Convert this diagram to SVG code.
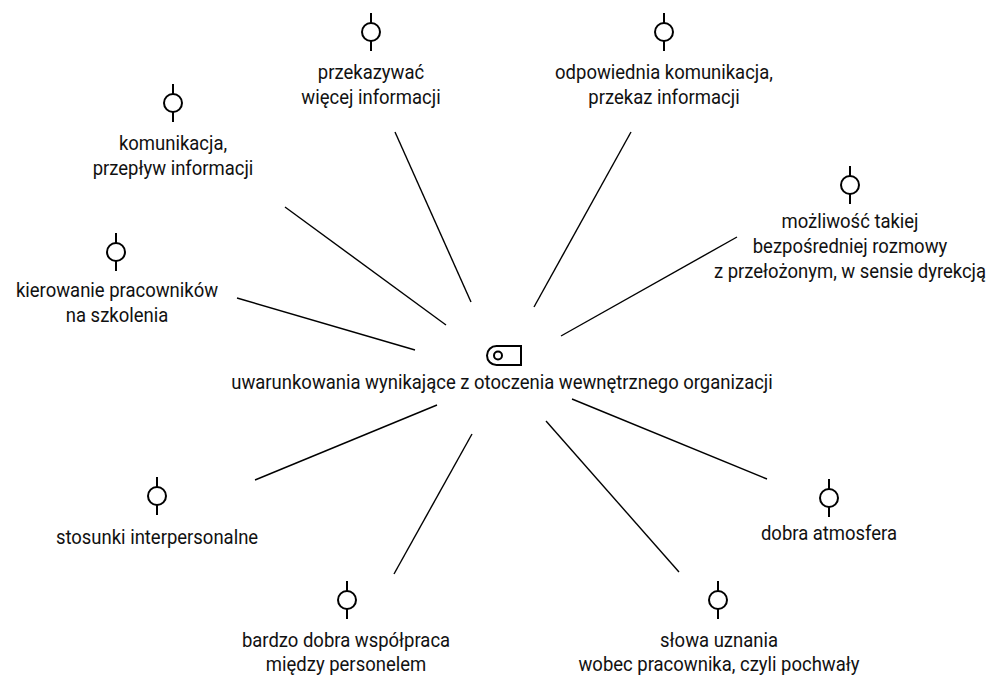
<svg xmlns="http://www.w3.org/2000/svg" width="990" height="676" viewBox="0 0 990 676">
  <style>
    .lbl { font-family: Roboto, "Noto Sans", "Liberation Sans", sans-serif; font-size: 21px; fill: #111; text-anchor: middle; }
    .edge { stroke: #000; stroke-width: 1.4; fill: none; }
    .pin { stroke: #000; stroke-width: 2; fill: #fff; }
  </style>
  <defs>
    <!-- lollipop symbol, centred on the circle -->
    <g id="pin">
      <line class="pin" x1="0" y1="-19" x2="0" y2="-9"/>
      <circle class="pin" cx="0" cy="0" r="9"/>
      <line class="pin" x1="0" y1="9" x2="0" y2="19"/>
    </g>
  </defs>
  <rect width="990" height="676" fill="#fff"/>

  <!-- connectors -->
  <g id="connectors">
    <line class="edge" x1="395" y1="132" x2="471" y2="302"/>
    <line class="edge" x1="631" y1="132" x2="534" y2="307"/>
    <line class="edge" x1="737" y1="237" x2="561" y2="336"/>
    <line class="edge" x1="285" y1="207" x2="446" y2="325"/>
    <line class="edge" x1="237" y1="298" x2="415" y2="350"/>
    <line class="edge" x1="437" y1="405" x2="255" y2="480"/>
    <line class="edge" x1="472" y1="434" x2="394" y2="574"/>
    <line class="edge" x1="572" y1="399" x2="767" y2="479"/>
    <line class="edge" x1="546" y1="421" x2="679" y2="572"/>
  </g>

  <!-- central node -->
  <g id="center">
    <path class="pin" d="M496.5 346 H521 V365 H496.5 A9.5 9.5 0 0 1 496.5 346 Z"/>
    <circle class="pin" cx="498" cy="355.5" r="4"/>
    <text class="lbl" transform="translate(502 389) scale(0.88 1)">uwarunkowania wynikające z otoczenia wewnętrznego organizacji</text>
  </g>

  <g id="n-przekazywac">
    <use href="#pin" x="371" y="32"/>
    <text class="lbl" transform="translate(371 79) scale(0.88 1)">przekazywać</text>
    <text class="lbl" transform="translate(371 104) scale(0.88 1)">więcej informacji</text>
  </g>

  <g id="n-odpowiednia">
    <use href="#pin" x="664" y="32"/>
    <text class="lbl" transform="translate(664 79) scale(0.88 1)">odpowiednia komunikacja,</text>
    <text class="lbl" transform="translate(664 104) scale(0.88 1)">przekaz informacji</text>
  </g>

  <g id="n-komunikacja">
    <use href="#pin" x="173" y="103"/>
    <text class="lbl" transform="translate(173 150) scale(0.88 1)">komunikacja,</text>
    <text class="lbl" transform="translate(173 175) scale(0.88 1)">przepływ informacji</text>
  </g>

  <g id="n-kierowanie">
    <use href="#pin" x="116" y="252"/>
    <text class="lbl" transform="translate(117 297) scale(0.88 1)">kierowanie pracowników</text>
    <text class="lbl" transform="translate(117 322) scale(0.88 1)">na szkolenia</text>
  </g>

  <g id="n-mozliwosc">
    <use href="#pin" x="850" y="185"/>
    <text class="lbl" transform="translate(850 228) scale(0.88 1)">możliwość takiej</text>
    <text class="lbl" transform="translate(850 253) scale(0.88 1)">bezpośredniej rozmowy</text>
    <text class="lbl" transform="translate(850 278) scale(0.88 1)">z przełożonym, w sensie dyrekcją</text>
  </g>

  <g id="n-stosunki">
    <use href="#pin" x="157" y="496"/>
    <text class="lbl" transform="translate(157 544) scale(0.88 1)">stosunki interpersonalne</text>
  </g>

  <g id="n-atmosfera">
    <use href="#pin" x="829" y="498"/>
    <text class="lbl" transform="translate(829 540) scale(0.88 1)">dobra atmosfera</text>
  </g>

  <g id="n-wspolpraca">
    <use href="#pin" x="347" y="600"/>
    <text class="lbl" transform="translate(346 647) scale(0.88 1)">bardzo dobra współpraca</text>
    <text class="lbl" transform="translate(346 671) scale(0.88 1)">między personelem</text>
  </g>

  <g id="n-uznanie">
    <use href="#pin" x="718" y="600"/>
    <text class="lbl" transform="translate(719 647) scale(0.88 1)">słowa uznania</text>
    <text class="lbl" transform="translate(719 671) scale(0.88 1)">wobec pracownika, czyli pochwały</text>
  </g>
</svg>
